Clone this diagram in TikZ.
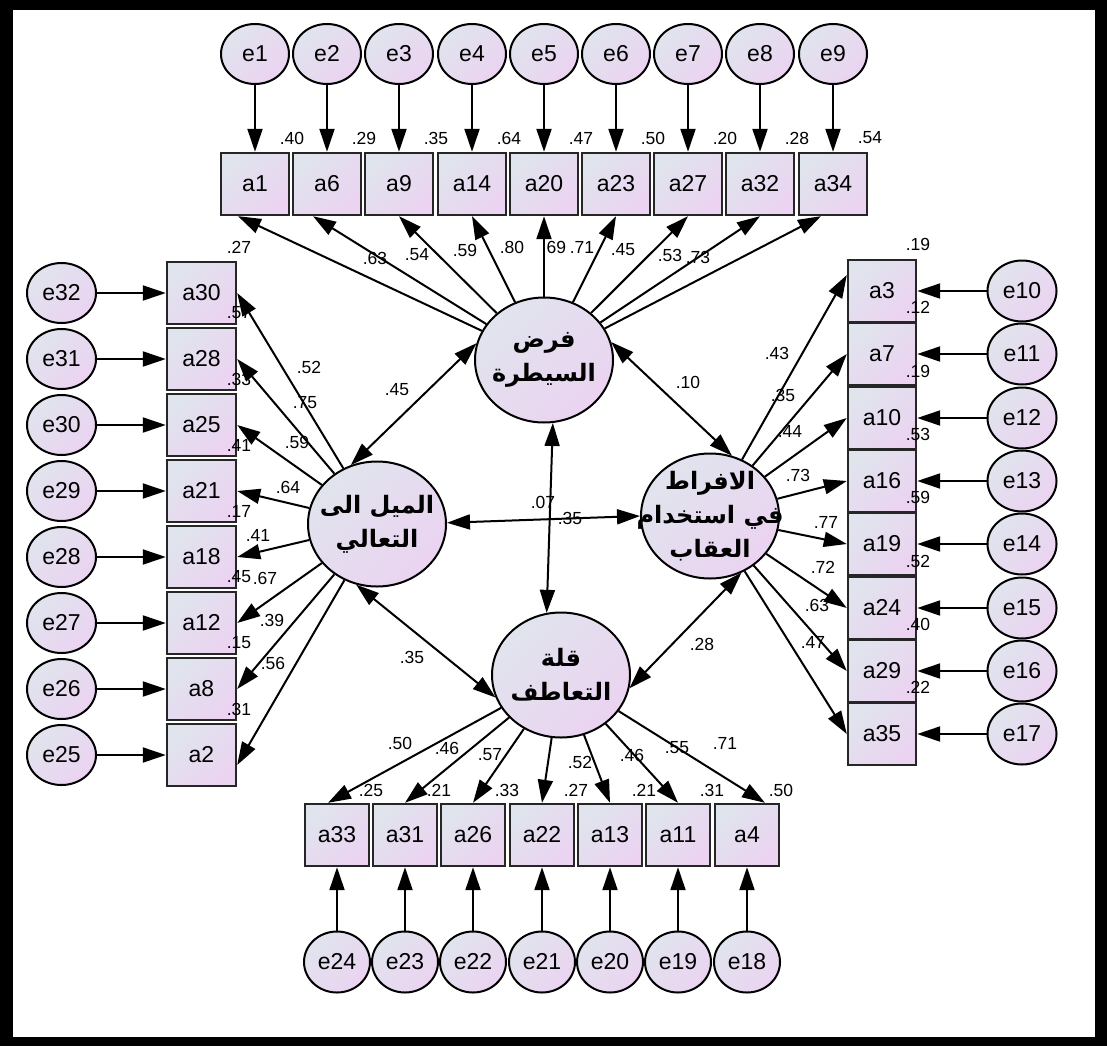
\documentclass[tikz,border=0pt]{standalone}
\usepackage{fontspec}
\setmainfont{Liberation Sans}
\newfontfamily\arabicfont[Script=Arabic]{DejaVu Sans}
\TeXXeTstate=1
\usetikzlibrary{shapes.geometric,arrows.meta,calc}
\definecolor{fillA}{RGB}{224,228,237}
\definecolor{fillB}{RGB}{235,211,241}
\tikzset{
  shadefill/.style={top color=fillA, bottom color=fillB, shading angle=45},
  obsbox/.style={rectangle, shadefill, draw=black!85, line width=2.4pt,
    minimum width=68pt, minimum height=62pt, inner sep=0pt,
    font=\fontsize{23}{26}\selectfont},
  errc/.style={ellipse, shadefill, draw=black, line width=2pt,
    minimum width=68pt, minimum height=60pt, inner sep=0pt,
    font=\fontsize{23}{26}\selectfont},
  latent/.style={ellipse, shadefill, draw=black, line width=2pt,
    minimum width=138pt, minimum height=125pt, inner sep=0pt},
  latname/.style={align=center, inner sep=0pt,
    font={\arabicfont\bfseries\fontsize{24}{34}\selectfont}},
  coef/.style={font=\fontsize{17.5}{20}\selectfont, inner sep=0pt},
  path1/.style={line width=2pt, -{Triangle[length=23pt,width=15pt]}},
  cov/.style={line width=2pt,
    {Triangle[length=23pt,width=15pt]}-{Triangle[length=23pt,width=15pt]}},
}
\begin{document}
\begin{tikzpicture}[x=1pt,y=-1pt]
\useasboundingbox (0,0) rectangle (1107,1046);
% frame
\fill[black] (0,0) rectangle (1107,1046);
\fill[white] (13,10) rectangle (1095,1037);

% latent factors
\node[latent] (T) at (544,360) {};
\node[latname] (Tt) at (T) {\beginR فرض\endR\\\beginR السيطرة\endR};
\node[latent] (L) at (377,524) {};
\node[latname] (Lt) at (L) {\beginR الميل الى\endR\\\beginR التعالي\endR};
\node[latent] (R) at (710,516) {};
\node[latname] (Rt) at (R) {\beginR الافراط\endR\\\beginR في استخدام\endR\\\beginR العقاب\endR};
\node[latent] (B) at (561,675) {};
\node[latname] (Bt) at (B) {\beginR قلة\endR\\\beginR التعاطف\endR};

% top indicators
\foreach \ob/\er/\rq/\lo/\lx/\ly/\tx [count=\i from 0] in {
  a1/e1/.40/.63/375/258/-17, a6/e2/.29/.54/417/255/-14, a9/e3/.35/.59/465/250/0,
  a14/e4/.64/.80/512/247/0, a20/e5/.47/.69/554/247/0, a23/e6/.50/.71/582/247/0,
  a27/e7/.20/.45/623/250/0, a32/e8/.28/.53/670/255/0, a34/e9/.54/.73/698/257/-12}{
  \pgfmathsetmacro\xx{round(255+72.2*\i)}
  \node[obsbox] (\ob) at (\xx,184) {\ob};
  \node[errc] (\er) at (\xx,54) {\er};
  \draw[path1] (\er) -- (\ob);
  \node[coef] (r\ob) at (\xx+37,138) {\rq};
  \node[coef] (l\ob) at (\lx,\ly) {\lo};
  \draw[path1] (T) -- ($(\ob.south)+(\tx,0)$);
}

% left indicators
\foreach \ob/\er/\rq/\lo/\lx/\ly/\ty [count=\i from 0] in {
  a30/e32/.27/.52/309/367/0, a28/e31/.57/.75/305/403/0, a25/e30/.33/.59/297/442/0,
  a21/e29/.41/.64/288/487/0, a18/e28/.17/.41/258/535/0, a12/e27/.45/.67/265/578/0,
  a8/e26/.15/.39/272/620/0, a2/e25/.31/.56/273/663/10}{
  \pgfmathsetmacro\yy{293+66*\i}
  \node[obsbox, minimum width=69pt] (\ob) at (201.5,\yy) {\ob};
  \node[errc, minimum width=69pt] (\er) at (61.5,\yy) {\er};
  \draw[path1] (\er) -- (\ob);
  \node[coef] (r\ob) at (239,\yy-46) {\rq};
  \node[coef] (l\ob) at (\lx,\ly) {\lo};
  \draw[path1] (L) -- ($(\ob.east)+(0,\ty)$);
}

% right indicators
\foreach \ob/\er/\rq/\lo/\lx/\ly/\ty [count=\i from 0] in {
  a3/e10/.19/.43/777/353/-16, a7/e11/.12/.35/783/395/0, a10/e12/.19/.44/790/431/0,
  a16/e13/.53/.73/798/475/0, a19/e14/.59/.77/826/522/0, a24/e15/.52/.72/823/567/0,
  a29/e16/.40/.63/817/605/0, a35/e17/.22/.47/813/642/0}{
  \pgfmathsetmacro\yy{round(291+63.3*\i)}
  \node[obsbox] (\ob) at (882,\yy) {\ob};
  \node[errc, minimum width=69pt, minimum height=61pt] (\er) at (1022,\yy) {\er};
  \draw[path1] (\er) -- (\ob);
  \node[coef] (r\ob) at (918,\yy-47) {\rq};
  \node[coef] (l\ob) at (\lx,\ly) {\lo};
  \draw[path1] (R) -- ($(\ob.west)+(0,\ty)$);
}

% bottom indicators
\foreach \ob/\er/\rq/\lo/\lx/\ly/\tx [count=\i from 0] in {
  a33/e24/.25/.50/400/743/-9, a31/e23/.21/.46/447/748/0, a26/e22/.33/.57/490/755/0,
  a22/e21/.27/.52/580/762/0, a13/e20/.21/.46/632/755/0, a11/e19/.31/.55/677/748/0,
  a4/e18/.50/.71/725/743/18}{
  \pgfmathsetmacro\xx{round(336.5+68.4*\i)}
  \node[obsbox, minimum width=64pt] (\ob) at (\xx,835) {\ob};
  \node[errc, minimum width=66pt, minimum height=61pt] (\er) at (\xx,962) {\er};
  \draw[path1] (\er) -- (\ob);
  \node[coef] (r\ob) at (\xx+34,790) {\rq};
  \node[coef] (l\ob) at (\lx,\ly) {\lo};
  \draw[path1] (B) -- ($(\ob.north)+(\tx,0)$);
}

% factor covariances
\draw[cov] (L.114) -- (T.166);
\draw[cov] (T.15) -- (R.70);
\draw[cov] (T.-82) -- (B.103);
\draw[cov] (L.1) -- (R.180);
\draw[cov] (L.-109) -- (B.-161);
\draw[cov] (R.-61) -- (B.-11);
\node[coef] (cLT) at (397,390) {.45};
\node[coef] (cTR) at (688,382) {.10};
\node[coef] (cTB) at (543,502) {.07};
\node[coef] (cLR) at (570,518) {.35};
\node[coef] (cLB) at (412,657) {.35};
\node[coef] (cRB) at (702,644) {.28};
\end{tikzpicture}
\end{document}
